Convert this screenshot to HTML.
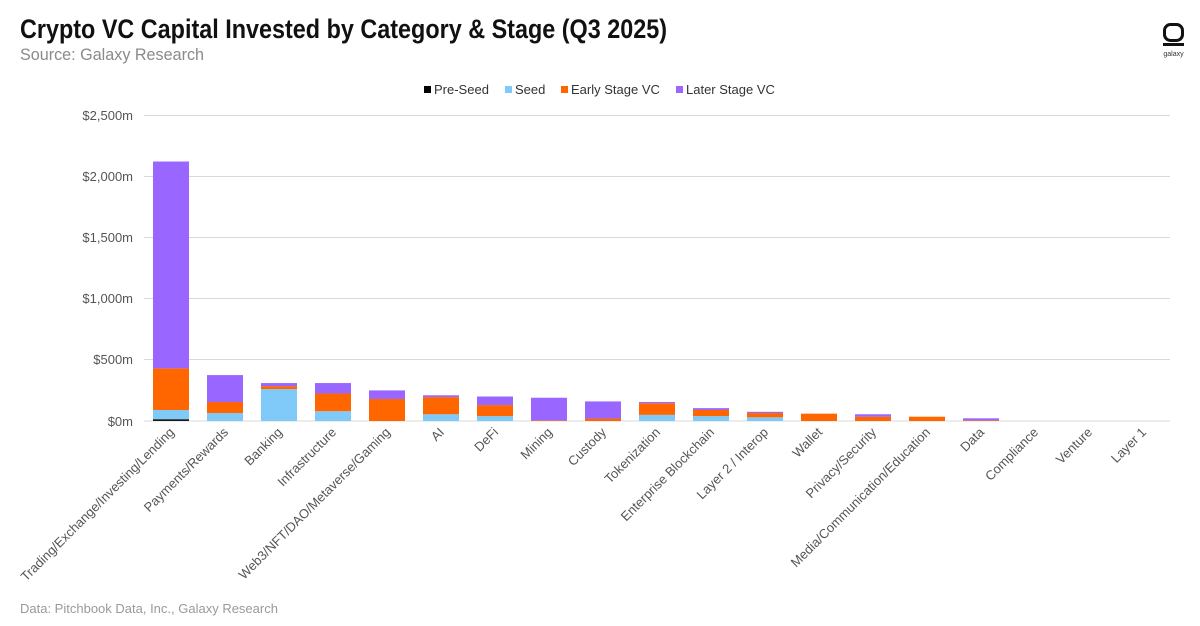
<!DOCTYPE html>
<html><head><meta charset="utf-8"><style>
html,body{margin:0;padding:0;background:#fff;}
svg{display:block;font-family:"Liberation Sans",Arial,sans-serif;}
</style></head><body>
<svg width="1200" height="626" viewBox="0 0 1200 626" xmlns="http://www.w3.org/2000/svg">
<text x="20" y="38" font-size="27" fill="#111" textLength="647" lengthAdjust="spacingAndGlyphs" font-weight="bold">Crypto VC Capital Invested by Category &amp; Stage (Q3 2025)</text>
<text x="20" y="60" font-size="17" fill="#8a8a8a" textLength="184" lengthAdjust="spacingAndGlyphs">Source: Galaxy Research</text>
<rect x="1164.5" y="24.5" width="18" height="16" rx="6" fill="none" stroke="#111" stroke-width="3"/>
<rect x="1163" y="43" width="21" height="3" fill="#111"/>
<text x="1173.5" y="56" font-size="7" fill="#333" text-anchor="middle">galaxy</text>
<g font-size="13" fill="#333">
<rect x="424" y="86" width="7" height="7" fill="#000"/><text x="434" y="94">Pre-Seed</text>
<rect x="505" y="86" width="7" height="7" fill="#7fcaf8"/><text x="515" y="94">Seed</text>
<rect x="561" y="86" width="7" height="7" fill="#ff6600"/><text x="571" y="94">Early Stage VC</text>
<rect x="676" y="86" width="7" height="7" fill="#9966ff"/><text x="686" y="94">Later Stage VC</text>
</g>
<g stroke="#d9d9d9" stroke-width="1">
<line x1="144" y1="115.5" x2="1170" y2="115.5"/>
<line x1="144" y1="176.5" x2="1170" y2="176.5"/>
<line x1="144" y1="237.5" x2="1170" y2="237.5"/>
<line x1="144" y1="298.5" x2="1170" y2="298.5"/>
<line x1="144" y1="359.5" x2="1170" y2="359.5"/>
<line x1="144" y1="421" x2="1170" y2="421"/>
</g>
<g font-size="13" fill="#555" text-anchor="end">
<text x="133" y="120">$2,500m</text>
<text x="133" y="181">$2,000m</text>
<text x="133" y="242">$1,500m</text>
<text x="133" y="303">$1,000m</text>
<text x="133" y="364">$500m</text>
<text x="133" y="426">$0m</text>
</g>
<g id="bars"></g>
<g id="labels" font-size="13" fill="#555" text-anchor="end"></g>
<text x="20" y="613" font-size="13" fill="#9a9a9a">Data: Pitchbook Data, Inc., Galaxy Research</text>
<script>
var d=[["Trading/Exchange/Investing/Lending",15,75,340,1690],["Payments/Rewards",0,65,90,220],["Banking",0,261,24,25],["Infrastructure",0,80,145,85],["Web3/NFT/DAO/Metaverse/Gaming",0,0,180,70],["AI",0,55,140,15],["DeFi",0,40,90,70],["Mining",0,0,5,185],["Custody",0,0,20,140],["Tokenization",0,50,95,10],["Enterprise Blockchain",0,40,50,15],["Layer 2 / Interop",0,30,35,10],["Wallet",0,0,60,0],["Privacy/Security",0,0,35,20],["Media/Communication/Education",0,0,35,0],["Data",0,0,5,17],["Compliance",0,0,0,0],["Venture",0,0,0,0],["Layer 1",0,0,0,0]];
var c=["#1a1a1a","#7fcaf8","#ff6600","#9966ff"],k=0.1224,ns="http://www.w3.org/2000/svg";
var B=document.getElementById("bars"),L=document.getElementById("labels");
d.forEach(function(r,i){var cx=171+54*i,y=421;
for(var j=1;j<5;j++){if(!r[j])continue;var h=r[j]*k;var e=document.createElementNS(ns,"rect");
e.setAttribute("x",cx-18);e.setAttribute("y",y-h);e.setAttribute("width",36);e.setAttribute("height",h);e.setAttribute("fill",c[j-1]);B.appendChild(e);y-=h;}
var t=document.createElementNS(ns,"text");t.setAttribute("transform","translate("+(cx+4)+",433) rotate(-45)");t.textContent=r[0];L.appendChild(t);});
</script>
</svg>
</body></html>
